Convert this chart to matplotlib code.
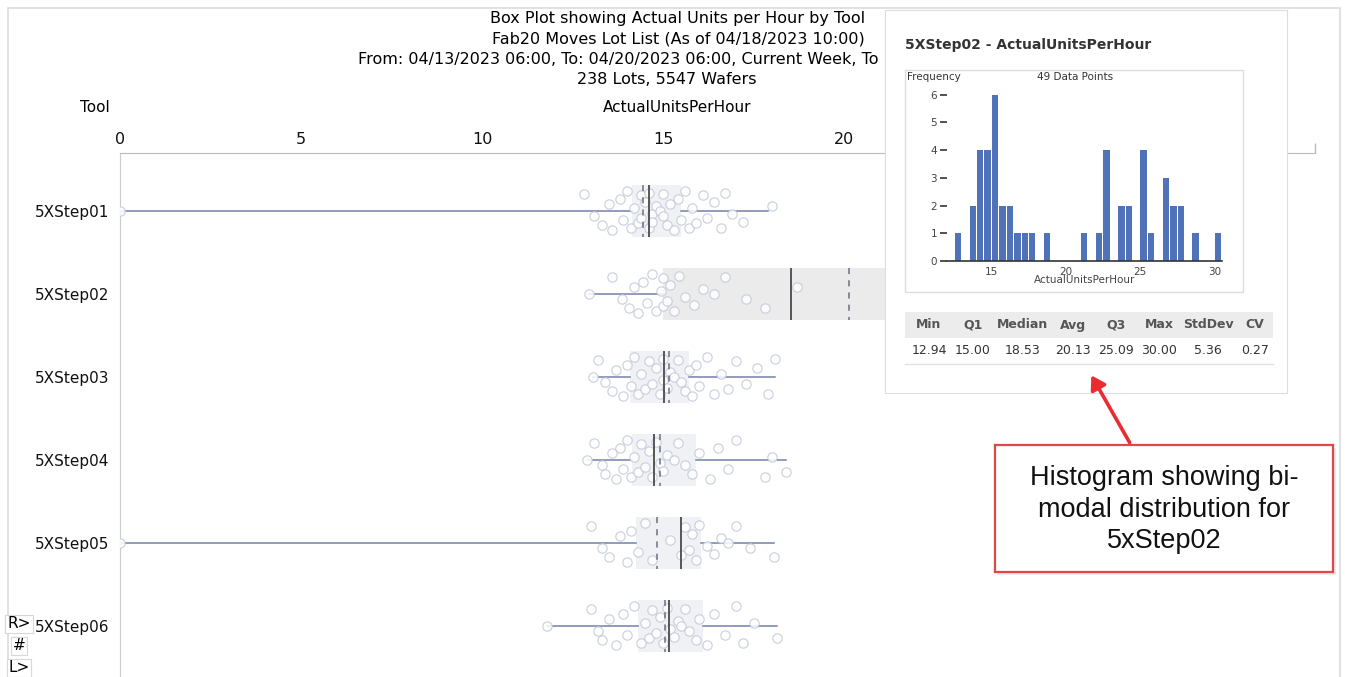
import numpy as np
import matplotlib
matplotlib.use('Agg')
import matplotlib.pyplot as plt
from matplotlib.patches import Rectangle, FancyArrowPatch

W, H = 1345, 677


def fx(p):
    return p / W


def fy(p):
    return 1 - p / H


tools = ['5XStep01', '5XStep02', '5XStep03', '5XStep04', '5XStep05', '5XStep06']

# individual lot values (approx)
step01 = [0.0, 12.8, 13.1, 13.3, 13.5, 13.6, 13.8, 13.9, 14.0, 14.1, 14.2, 14.3, 14.4, 14.4,
          14.5, 14.6, 14.6, 14.7, 14.7, 14.8, 14.9, 15.0, 15.0, 15.1, 15.2, 15.3, 15.4, 15.5,
          15.6, 15.7, 15.8, 15.9, 16.1, 16.2, 16.4, 16.6, 16.7, 16.9, 17.2, 18.0]
step02 = [12.94, 13.6, 13.85, 14.05, 14.2, 14.3, 14.45, 14.55, 14.7, 14.8, 14.95,
          15.0, 15.0, 15.1, 15.2, 15.3, 15.45, 15.6, 15.85, 16.1, 16.4, 16.7, 17.3, 17.8,
          18.7, 21.3, 22.2, 22.6, 22.7, 22.8, 22.9, 23.6, 23.9, 24.1, 24.4,
          25.05, 25.1, 25.25, 25.4, 25.7, 26.6, 26.75, 26.9, 27.1, 27.4, 27.6, 27.9, 28.8, 30.0]
step03 = [13.05, 13.2, 13.4, 13.6, 13.7, 13.9, 14.0, 14.1, 14.2, 14.3, 14.4, 14.5, 14.6,
          14.7, 14.8, 14.9, 15.0, 15.0, 15.1, 15.2, 15.3, 15.4, 15.5, 15.6, 15.7, 15.8,
          15.9, 16.0, 16.2, 16.4, 16.6, 16.8, 17.0, 17.3, 17.6, 17.9, 18.1]
step04 = [12.9, 13.1, 13.3, 13.4, 13.6, 13.7, 13.8, 13.9, 14.0, 14.1, 14.2, 14.3, 14.4,
          14.5, 14.6, 14.7, 14.8, 14.9, 15.0, 15.1, 15.3, 15.4, 15.6, 15.8, 16.0, 16.3,
          16.5, 16.8, 17.0, 17.8, 18.0, 18.4]
step05 = [0.0, 13.0, 13.3, 13.5, 13.8, 14.0, 14.1, 14.3, 14.5, 14.7, 15.2, 15.5, 15.6,
          15.7, 15.8, 15.9, 16.0, 16.2, 16.4, 16.6, 16.8, 17.0, 17.4, 18.05]
step06 = [11.8, 13.0, 13.2, 13.3, 13.5, 13.7, 13.9, 14.0, 14.2, 14.4, 14.5, 14.6, 14.7,
          14.8, 14.9, 15.0, 15.1, 15.2, 15.3, 15.4, 15.5, 15.6, 15.7, 15.9, 16.0, 16.2,
          16.4, 16.7, 17.0, 17.2, 17.5, 18.15]
values = [step01, step02, step03, step04, step05, step06]

# box statistics per tool
whis_lo = [0.0, 12.94, 13.05, 12.9, 0.0, 11.8]
q1s = [14.15, 15.0, 14.07, 14.15, 14.26, 14.3]
medians = [14.62, 18.53, 15.03, 14.76, 15.48, 15.17]
means = [14.45, 20.13, 15.15, 14.9, 14.84, 15.05]
q3s = [15.5, 25.09, 15.72, 15.9, 16.05, 16.1]
whis_hi = [17.9, 30.0, 18.1, 18.4, 18.05, 18.15]
hovered = 1

x_ticks = [0, 5, 10, 15, 20, 25, 30]

stat_names = ['Min', 'Q1', 'Median', 'Avg', 'Q3', 'Max', 'StdDev', 'CV']
stat_values = ['12.94', '15.00', '18.53', '20.13', '25.09', '30.00', '5.36', '0.27']

title_lines = ['Box Plot showing Actual Units per Hour by Tool',
               'Fab20 Moves Lot List (As of 04/18/2023 10:00)']
title_line3 = 'From: 04/13/2023 06:00, To: 04/20/2023 06:00, Current Week, To'
title_line4 = '238 Lots, 5547 Wafers'

# fixed vertical jitter pattern for the dots
jit = [0.0, -0.2, 0.06, 0.17, -0.09, 0.23, -0.15, 0.11, -0.24, 0.2, -0.04, 0.14,
       -0.19, 0.08, -0.11, 0.21, -0.22, 0.03, 0.13, -0.06]

fig = plt.figure(figsize=(W / 100, H / 100), dpi=100)
fig.patch.set_facecolor('white')

# outer frame of the screenshot
fig.patches.append(Rectangle((fx(8), fy(690)), fx(1340) - fx(8), fy(8) - fy(690),
                             transform=fig.transFigure, fill=False, edgecolor='#dcdcdc',
                             lw=1.2, zorder=0))

ax = fig.add_axes([fx(120), 0.0, fx(1315) - fx(120), fy(153)])
ax.set_xlim(0, 33)
ax.set_ylim(5.614, -0.699)

stats = []
for i in range(len(tools)):
    stats.append(dict(med=medians[i], q1=q1s[i], q3=q3s[i], whislo=whis_lo[i],
                      whishi=whis_hi[i], mean=means[i], fliers=[]))

bp = ax.bxp(stats, positions=range(len(tools)), widths=0.63, orientation='horizontal',
            patch_artist=True, showcaps=False, showfliers=False, showmeans=True,
            meanline=True,
            boxprops=dict(facecolor='#f0f1f4', edgecolor='none'),
            whiskerprops=dict(color='#7480a8', lw=1.1),
            medianprops=dict(color='#4a4a4a', lw=1.3, zorder=4),
            meanprops=dict(color='#6a6f85', lw=1.1, ls=(0, (4, 4)), zorder=4))
bp['boxes'][hovered].set_facecolor('#ebebeb')

for i, vals in enumerate(values):
    ys = [i + jit[k % len(jit)] for k in range(len(vals))]
    ax.scatter(vals, ys, s=45, facecolor='white', edgecolor='#c3c9da', lw=0.85,
               alpha=0.85, zorder=3)

ax.xaxis.tick_top()
ax.set_xticks(x_ticks)
ax.set_xticklabels([str(t) for t in x_ticks])
ax.set_xticks([33], minor=True)
ax.tick_params(axis='x', which='major', length=0, pad=4, labelsize=11.5, colors='#111111')
ax.tick_params(axis='x', which='minor', length=7, width=1, color='#bbbbbb')
ax.set_yticks(range(len(tools)))
ax.set_yticklabels(tools)
ax.tick_params(axis='y', length=0, pad=8, labelsize=11, colors='#111111')
for s in ['right', 'bottom']:
    ax.spines[s].set_visible(False)
ax.spines['top'].set_color('#bbbbbb')
ax.spines['left'].set_color('#cccccc')

# headers and titles
fig.text(fx(95), fy(108), 'Tool', ha='center', va='center', fontsize=11)
fig.text(fx(677), fy(108), 'ActualUnitsPerHour', ha='center', va='center', fontsize=11)
for k, line in enumerate(title_lines):
    fig.text(fx(678), fy(19 + 20.3 * k), line, ha='center', va='center', fontsize=11.5)
fig.text(fx(358), fy(60), title_line3, ha='left', va='center', fontsize=11.5)
fig.text(fx(667), fy(80), title_line4, ha='center', va='center', fontsize=11.5)

# little controls bottom-left
for k, lab in enumerate(['R>', '#', 'L>']):
    fig.text(fx(19), fy(624 + 22 * k), lab, ha='center', va='center', fontsize=11,
             bbox=dict(boxstyle='square,pad=0.12', fc='white', ec='#d8d8d8', lw=0.8))

# tooltip panel
shadow = fig.add_axes([fx(887), fy(397), fx(1291) - fx(887), fy(12) - fy(397)], zorder=9)
shadow.set_facecolor('#e6e6e6')
shadow.set_axis_off()
shadow.patch.set_visible(True)
shadow.patch.set_alpha(0.6)
tip = fig.add_axes([fx(885), fy(393), fx(1287) - fx(885), fy(10) - fy(393)], zorder=10)
tip.set_xlim(885, 1287)
tip.set_ylim(393, 10)
tip.set_xticks([])
tip.set_yticks([])
for s in tip.spines.values():
    s.set_color('#dddddd')
tip.text(905, 45, '5XStep02 - ActualUnitsPerHour', ha='left', va='center', fontsize=10,
         fontweight='bold', color='#333333')
tip.add_patch(Rectangle((905, 70), 338, 222, fill=False, ec='#dddddd', lw=1))
tip.text(907, 77, 'Frequency', ha='left', va='center', fontsize=7.5, color='#333333')
tip.text(1075, 77, '49 Data Points', ha='center', va='center', fontsize=7.5, color='#333333')

# stats table
tip.add_patch(Rectangle((905, 312), 368, 26, fc='#ececec', ec='none'))
tip.plot([905, 1273], [364, 364], color='#e2e2e2', lw=1)
col_x = [929, 973, 1023, 1073, 1116, 1159, 1208, 1255]
for cx, name, val in zip(col_x, stat_names, stat_values):
    tip.text(cx, 325, name, ha='center', va='center', fontsize=9, fontweight='bold',
             color='#555555')
    tip.text(cx, 351, val, ha='center', va='center', fontsize=9, color='#333333')

# histogram inside tooltip
hx = fig.add_axes([fx(947), fy(261), fx(1222) - fx(947), fy(78) - fy(261)], zorder=11)
hx.hist(step02, bins=np.arange(12.5, 31.0, 0.5), rwidth=0.86, color='#4f72b8')
hx.set_xlim(12.02, 30.52)
hx.set_ylim(0, 6.6)
hx.patch.set_visible(False)
hx.set_yticks(range(7))
hx.set_xticks([15, 20, 25, 30])
hx.tick_params(axis='y', length=5, width=1.2, color='#333333', labelsize=7.5, pad=2,
               labelcolor='#444444')
hx.tick_params(axis='x', length=0, labelsize=7.5, pad=4, labelcolor='#444444')
for s in ['top', 'right', 'left']:
    hx.spines[s].set_visible(False)
hx.spines['bottom'].set_color('#333333')
hx.spines['bottom'].set_linewidth(1.2)
hx.set_xlabel('ActualUnitsPerHour', fontsize=7.5, color='#444444', labelpad=-1)

# callout box with arrow
fig.patches.append(Rectangle((fx(997), fy(575)), fx(1336) - fx(997), fy(448) - fy(575),
                             transform=fig.transFigure, fc='#e8e8e8', ec='none', zorder=11.5))
call = fig.add_axes([fx(995), fy(572), fx(1333) - fx(995), fy(445) - fy(572)], zorder=12)
call.set_xticks([])
call.set_yticks([])
for s in call.spines.values():
    s.set_color('#e0474c')
    s.set_linewidth(1.6)
call.text(0.5, 0.49, 'Histogram showing bi-\nmodal distribution for\n5xStep02',
          ha='center', va='center', fontsize=19.5, family='Liberation Sans',
          linespacing=1.27, color='#111111', transform=call.transAxes)
fig.add_artist(FancyArrowPatch(
    (fx(1131), fy(445)), (fx(1090), fy(373)), transform=fig.transFigure,
    arrowstyle='-|>,head_length=8,head_width=5', color='#ea2b32', lw=2.6, zorder=13))

fig.savefig('out.png', dpi=100)
